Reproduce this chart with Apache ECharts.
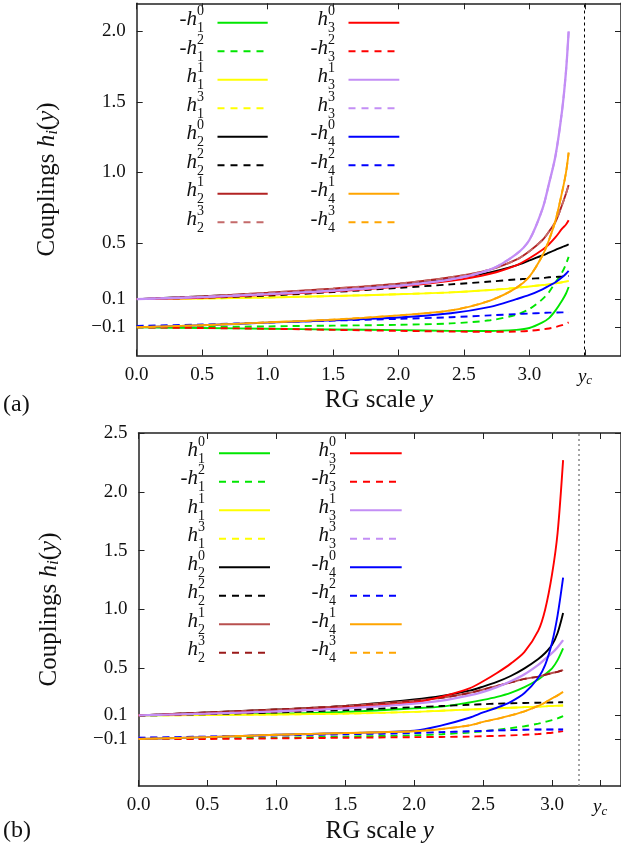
<!DOCTYPE html>
<html>
<head>
<meta charset="utf-8">
<script src="https://cdn.jsdelivr.net/npm/echarts@6/dist/echarts.min.js"></script>
<style>
  html, body { margin: 0; padding: 0; background: #fff; }
  #chart { width: 621px; height: 857px; }
</style>
</head>
<body>
<div id="chart"></div>
<script>
// ---------- panel (a) ----------
const xA = [0, 0.5, 1.0, 1.5, 2.0, 2.4, 2.7, 2.9, 3.0, 3.1, 3.15, 3.2, 3.25, 3.28, 3.3];
const mh10_a = [-0.10, -0.105, -0.11, -0.115, -0.12, -0.125, -0.126, -0.118, -0.105, -0.065, -0.035, 0.02, 0.09, 0.14, 0.186];
const mh12_a = [-0.10, -0.098, -0.093, -0.088, -0.082, -0.072, -0.05, -0.01, 0.03, 0.10, 0.15, 0.22, 0.29, 0.35, 0.40];
const h11_a  = [0.10, 0.105, 0.112, 0.122, 0.135, 0.148, 0.165, 0.18, 0.19, 0.20, 0.205, 0.212, 0.22, 0.225, 0.229];
const h13_a  = [0.10, 0.105, 0.112, 0.122, 0.135, 0.148, 0.165, 0.18, 0.19, 0.20, 0.205, 0.212, 0.22, 0.225, 0.229];
const h20_a  = [0.10, 0.12, 0.14, 0.17, 0.205, 0.245, 0.29, 0.34, 0.375, 0.41, 0.43, 0.45, 0.47, 0.48, 0.49];
const h22_a  = [0.10, 0.11, 0.125, 0.15, 0.18, 0.205, 0.225, 0.24, 0.245, 0.25, 0.255, 0.258, 0.261, 0.263, 0.264];
const h21_a  = [0.10, 0.12, 0.145, 0.175, 0.21, 0.255, 0.31, 0.38, 0.44, 0.52, 0.58, 0.65, 0.77, 0.85, 0.91];
const h23_a  = [0.10, 0.12, 0.145, 0.175, 0.21, 0.255, 0.31, 0.38, 0.44, 0.52, 0.58, 0.65, 0.77, 0.85, 0.91];
const h30_a  = [0.10, 0.11, 0.13, 0.155, 0.19, 0.23, 0.28, 0.34, 0.39, 0.45, 0.49, 0.54, 0.60, 0.63, 0.66];
const mh32_a = [-0.10, -0.105, -0.11, -0.118, -0.125, -0.13, -0.132, -0.13, -0.125, -0.115, -0.108, -0.098, -0.085, -0.075, -0.065];
const h31_a  = [0.10, 0.115, 0.135, 0.16, 0.195, 0.24, 0.31, 0.42, 0.52, 0.74, 0.92, 1.12, 1.44, 1.72, 2.0];
const h33_a  = [0.10, 0.115, 0.135, 0.16, 0.195, 0.24, 0.31, 0.42, 0.52, 0.74, 0.92, 1.12, 1.44, 1.72, 2.0];
const mh40_a = [-0.10, -0.085, -0.067, -0.05, -0.03, 0.0, 0.045, 0.10, 0.13, 0.17, 0.195, 0.22, 0.255, 0.28, 0.30];
const mh42_a = [-0.09, -0.08, -0.066, -0.052, -0.04, -0.028, -0.015, -0.006, -0.002, 0.002, 0.004, 0.005, 0.006, 0.006, 0.006];
const mh41_a = [-0.10, -0.085, -0.065, -0.045, -0.015, 0.02, 0.09, 0.18, 0.26, 0.41, 0.52, 0.66, 0.86, 1.0, 1.14];
const mh43_a = [-0.10, -0.085, -0.065, -0.045, -0.015, 0.02, 0.09, 0.18, 0.26, 0.41, 0.52, 0.66, 0.86, 1.0, 1.14];
const ycA = 3.425;

// ---------- panel (b) ----------
const xB = [0, 0.5, 1.0, 1.5, 2.0, 2.2, 2.4, 2.5, 2.6, 2.7, 2.8, 2.9, 2.95, 3.0, 3.04, 3.08];
const h10_b  = [0.10, 0.105, 0.115, 0.13, 0.16, 0.175, 0.21, 0.232, 0.258, 0.292, 0.34, 0.405, 0.45, 0.50, 0.57, 0.67];
const mh12_b = [-0.10, -0.095, -0.09, -0.08, -0.07, -0.06, -0.045, -0.035, -0.022, -0.008, 0.008, 0.03, 0.045, 0.06, 0.075, 0.094];
const h11_b  = [0.10, 0.103, 0.108, 0.115, 0.13, 0.14, 0.15, 0.155, 0.16, 0.165, 0.17, 0.175, 0.177, 0.18, 0.182, 0.184];
const h13_b  = [0.10, 0.103, 0.108, 0.115, 0.13, 0.14, 0.15, 0.155, 0.16, 0.165, 0.17, 0.175, 0.177, 0.18, 0.182, 0.184];
const h20_b  = [0.10, 0.125, 0.15, 0.18, 0.235, 0.265, 0.31, 0.345, 0.385, 0.435, 0.5, 0.58, 0.63, 0.70, 0.80, 0.97];
const h22_b  = [0.098, 0.11, 0.125, 0.145, 0.17, 0.18, 0.19, 0.195, 0.2, 0.203, 0.206, 0.208, 0.209, 0.21, 0.211, 0.212];
const h21_b  = [0.10, 0.125, 0.15, 0.18, 0.225, 0.25, 0.29, 0.32, 0.35, 0.38, 0.41, 0.43, 0.445, 0.46, 0.47, 0.485];
const h23_b  = [0.10, 0.125, 0.15, 0.18, 0.225, 0.25, 0.29, 0.32, 0.35, 0.38, 0.41, 0.43, 0.445, 0.46, 0.47, 0.485];
const h30_b  = [0.10, 0.115, 0.135, 0.165, 0.21, 0.26, 0.33, 0.39, 0.46, 0.54, 0.64, 0.82, 1.0, 1.3, 1.65, 2.27];
const mh32_b = [-0.10, -0.10, -0.095, -0.09, -0.085, -0.083, -0.08, -0.077, -0.074, -0.07, -0.065, -0.058, -0.052, -0.047, -0.04, -0.034];
const h31_b  = [0.10, 0.115, 0.135, 0.16, 0.20, 0.225, 0.27, 0.30, 0.34, 0.39, 0.45, 0.53, 0.58, 0.63, 0.68, 0.74];
const h33_b  = [-0.09, -0.08, -0.07, -0.06, -0.05, -0.042, -0.035, -0.032, -0.028, -0.025, -0.022, -0.02, -0.02, -0.02, -0.02, -0.02];
const mh40_b = [-0.10, -0.085, -0.065, -0.05, -0.03, 0.015, 0.08, 0.125, 0.165, 0.215, 0.29, 0.42, 0.53, 0.72, 0.95, 1.27];
const mh42_b = [-0.09, -0.08, -0.07, -0.06, -0.05, -0.042, -0.035, -0.032, -0.028, -0.025, -0.022, -0.02, -0.02, -0.02, -0.02, -0.02];
const mh41_b = [-0.10, -0.085, -0.065, -0.05, -0.035, -0.015, 0.015, 0.045, 0.07, 0.10, 0.135, 0.18, 0.21, 0.245, 0.27, 0.30];
const mh43_b = [-0.10, -0.085, -0.065, -0.05, -0.035, -0.015, 0.015, 0.045, 0.07, 0.10, 0.135, 0.18, 0.21, 0.245, 0.27, 0.30];
const ycB_line = 3.19;
const ycB_tick = 3.349;

// tick positions
const xTicks = [0, 0.5, 1.0, 1.5, 2.0, 2.5, 3.0];
const yTicksA = [-0.1, 0.1, 0.5, 1.0, 1.5, 2.0];
const yTicksB = [-0.1, 0.1, 0.5, 1.0, 1.5, 2.0, 2.5];

// colours
const C = {
  green: '#00e600', yellow: '#ffff00', black: '#000000',
  brownA: '#b22222', rosyA: '#c46a6a', brownB: '#b8504f', darkB: '#9a1a1a',
  red: '#ff0000', purple: '#c38ef5', blue: '#0000ff', orange: '#ffa500'
};

// legend entries: [sign, sub, sup, colour, dashed, data]
const legendA = [
  [['-', 1, 0, C.green, false, mh10_a], ['-', 1, 2, C.green, true, mh12_a], ['', 1, 1, C.yellow, false, h11_a], ['', 1, 3, C.yellow, true, h13_a],
   ['', 2, 0, C.black, false, h20_a], ['', 2, 2, C.black, true, h22_a], ['', 2, 1, C.brownA, false, h21_a], ['', 2, 3, C.rosyA, true, h23_a]],
  [['', 3, 0, C.red, false, h30_a], ['-', 3, 2, C.red, true, mh32_a], ['', 3, 1, C.purple, false, h31_a], ['', 3, 3, C.purple, true, h33_a],
   ['-', 4, 0, C.blue, false, mh40_a], ['-', 4, 2, C.blue, true, mh42_a], ['-', 4, 1, C.orange, false, mh41_a], ['-', 4, 3, C.orange, true, mh43_a]]
];
const legendB = [
  [['', 1, 0, C.green, false, h10_b], ['-', 1, 2, C.green, true, mh12_b], ['', 1, 1, C.yellow, false, h11_b], ['', 1, 3, C.yellow, true, h13_b],
   ['', 2, 0, C.black, false, h20_b], ['', 2, 2, C.black, true, h22_b], ['', 2, 1, C.brownB, false, h21_b], ['', 2, 3, C.darkB, true, h23_b]],
  [['', 3, 0, C.red, false, h30_b], ['-', 3, 2, C.red, true, mh32_b], ['', 3, 1, C.purple, false, h31_b], ['', 3, 3, C.purple, true, h33_b],
   ['-', 4, 0, C.blue, false, mh40_b], ['-', 4, 2, C.blue, true, mh42_b], ['-', 4, 1, C.orange, false, mh41_b], ['-', 4, 3, C.orange, true, mh43_b]]
];

const FONT = '"Liberation Serif", "Times New Roman", "DejaVu Serif", serif';
const AX = '#222';

function fmtY(v) {
  const s = v.toFixed(1);
  return v < 0 ? '\u2212' + s.slice(1) : s;
}

function xAxes(gi, max, yc) {
  const vals = xTicks.concat([yc]);
  const fmt = v => Math.abs(v - yc) < 1e-6 ? '{it|y}{sub|c}' : v.toFixed(1);
  const nameText = '{n|RG scale }{it|y}';
  return [
    {
      type: 'value', gridIndex: gi, position: 'bottom', min: 0, max: max,
      splitLine: { show: false },
      axisLine: { show: true, onZero: false, lineStyle: { color: AX, width: 1.5 } },
      axisTick: { show: true, inside: true, length: 6, customValues: vals, lineStyle: { color: AX, width: 1 } },
      axisLabel: {
        show: true, customValues: vals, formatter: fmt, margin: 10,
        color: '#111', fontFamily: FONT, fontSize: 19,
        rich: {
          it: { fontFamily: FONT, fontSize: 19, fontStyle: 'italic', color: '#111' },
          sub: { fontFamily: FONT, fontSize: 13, fontStyle: 'italic', color: '#111', padding: [9, 0, 0, 0] }
        }
      },
      name: nameText, nameLocation: 'middle', nameGap: 28,
      nameTextStyle: {
        rich: {
          n: { fontFamily: FONT, fontSize: 25, color: '#111' },
          it: { fontFamily: FONT, fontSize: 25, fontStyle: 'italic', color: '#111' }
        }
      }
    },
    {
      type: 'value', gridIndex: gi, position: 'top', min: 0, max: max,
      splitLine: { show: false },
      axisLine: { show: true, onZero: false, lineStyle: { color: AX, width: 1.5 } },
      axisTick: { show: true, inside: true, length: 6, customValues: vals, lineStyle: { color: AX, width: 1 } },
      axisLabel: { show: false }
    }
  ];
}

function yAxes(gi, min, max, ticks) {
  const nameText = '{n|Couplings }{it|h}{sub|i}{n|(}{it|y}{n|)}';
  return [
    {
      type: 'value', gridIndex: gi, position: 'left', min: min, max: max,
      splitLine: { show: false },
      axisLine: { show: true, onZero: false, lineStyle: { color: AX, width: 1.5 } },
      axisTick: { show: true, inside: true, length: 6, customValues: ticks, lineStyle: { color: AX, width: 1 } },
      axisLabel: { show: true, customValues: ticks, formatter: fmtY, margin: 11, color: '#111', fontFamily: FONT, fontSize: 19 },
      name: nameText, nameLocation: 'middle', nameGap: 76, nameRotate: 90,
      nameTextStyle: {
        rich: {
          n: { fontFamily: FONT, fontSize: 25, color: '#111' },
          it: { fontFamily: FONT, fontSize: 25, fontStyle: 'italic', color: '#111' },
          sub: { fontFamily: FONT, fontSize: 17, fontStyle: 'italic', color: '#111', padding: [10, 0, 0, 0] }
        }
      }
    },
    {
      type: 'value', gridIndex: gi, position: 'right', min: min, max: max,
      splitLine: { show: false },
      axisLine: { show: true, onZero: false, lineStyle: { color: AX, width: 1.5 } },
      axisTick: { show: true, inside: true, length: 6, customValues: ticks, lineStyle: { color: AX, width: 1 } },
      axisLabel: { show: false }
    }
  ];
}

function lineSeries(xs, ys, color, dashed, gi, width, z) {
  return {
    type: 'line', xAxisIndex: gi * 2, yAxisIndex: gi * 2,
    data: xs.map((x, i) => [x, ys[i]]),
    showSymbol: false, symbol: 'none', smooth: 0.3,
    silent: true, animation: false, z: z,
    lineStyle: { color: color, width: width, type: dashed ? [7, 5] : 'solid' }
  };
}

const series = [];
function addPanel(legend, xs, gi) {
  let z = 2;
  legend.forEach(col => col.forEach(e => {
    const w = (e[3] === C.purple && !e[4]) ? 2.3 : 1.9;
    series.push(lineSeries(xs, e[5], e[3], e[4], gi, w, z++));
  }));
}
addPanel(legendA, xA, 0);
addPanel(legendB, xB, 1);

// critical scale markers
series.push({
  type: 'line', xAxisIndex: 0, yAxisIndex: 0, data: [], silent: true, animation: false,
  markLine: {
    silent: true, symbol: 'none', animation: false, label: { show: false },
    lineStyle: { color: '#000', width: 1, type: [3, 3] },
    data: [{ xAxis: ycA }]
  }
});
series.push({
  type: 'line', xAxisIndex: 2, yAxisIndex: 2, data: [], silent: true, animation: false,
  markLine: {
    silent: true, symbol: 'none', animation: false, label: { show: false },
    lineStyle: { color: '#888', width: 1.5, type: [2, 3] },
    data: [{ xAxis: ycB_line }]
  }
});

// legend boxes drawn as graphic text + sample lines
function legendGraphics(legend, cols, y0, step) {
  const out = [];
  legend.forEach((col, ci) => {
    const c = cols[ci];
    col.forEach((e, ri) => {
      const y = y0 + ri * step;
      const R = c.right;
      out.push({ type: 'text', silent: true, style: { text: e[0] + 'h', x: R - 8, y: y - 3, textAlign: 'right', textVerticalAlign: 'middle', font: 'italic 21px ' + FONT, fill: '#111' } });
      out.push({ type: 'text', silent: true, style: { text: String(e[2]), x: R - 8, y: y - 11, textAlign: 'left', textVerticalAlign: 'middle', font: '14px ' + FONT, fill: '#111' } });
      out.push({ type: 'text', silent: true, style: { text: String(e[1]), x: R - 8, y: y + 6, textAlign: 'left', textVerticalAlign: 'middle', font: '14px ' + FONT, fill: '#111' } });
      out.push({
        type: 'line', silent: true,
        shape: { x1: c.l1, y1: y, x2: e[4] ? c.l2 - 4 : c.l2, y2: y },
        style: { stroke: e[3], lineWidth: 2, lineDash: e[4] ? [7, 6] : null }
      });
    });
  });
  return out;
}

const graphic = []
  .concat(legendGraphics(legendA, [{ right: 205, l1: 217.5, l2: 267.7 }, { right: 336, l1: 348.5, l2: 399.3 }], 22.7, 28.5))
  .concat(legendGraphics(legendB, [{ right: 206, l1: 219, l2: 270 }, { right: 337, l1: 350, l2: 401.7 }], 453.3, 28.5))
  .concat([
    { type: 'text', silent: true, style: { text: '(a)', x: 3, y: 405, textVerticalAlign: 'middle', font: '24px ' + FONT, fill: '#111' } },
    { type: 'text', silent: true, style: { text: '(b)', x: 3, y: 831, textVerticalAlign: 'middle', font: '24px ' + FONT, fill: '#111' } }
  ]);

const chart = echarts.init(document.getElementById('chart'), null, { renderer: 'canvas' });
chart.setOption({
  animation: false,
  backgroundColor: '#fff',
  grid: [
    { left: 136.7, top: 3.3, width: 485.4, height: 352.2 },
    { left: 138.5, top: 433, width: 485.8, height: 353 }
  ],
  xAxis: xAxes(0, 3.7, ycA).concat(xAxes(1, 3.5, ycB_tick)),
  yAxis: yAxes(0, -0.3, 2.2, yTicksA).concat(yAxes(1, -0.5, 2.5, yTicksB)),
  series: series,
  graphic: graphic
});
</script>
</body>
</html>
